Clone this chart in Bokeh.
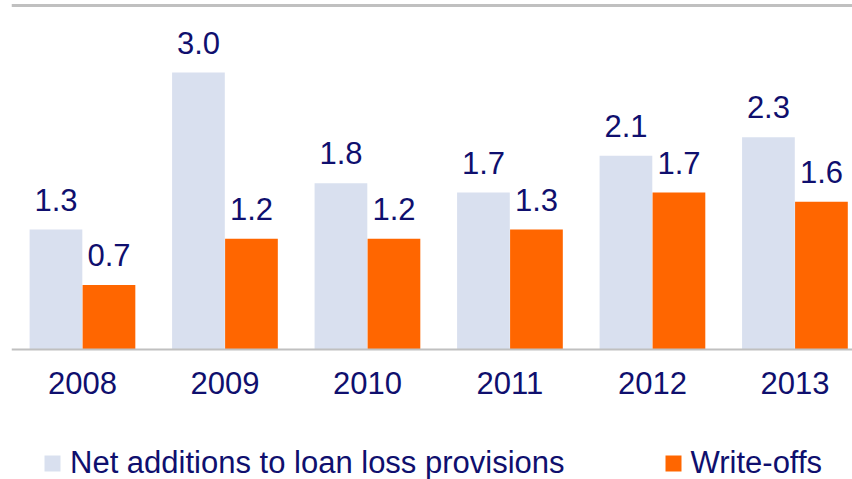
from bokeh.plotting import figure
from bokeh.models import ColumnDataSource, Legend, LegendItem, Span, FixedTicker
from bokeh.core.properties import value
from bokeh.embed import file_html
from bokeh.resources import INLINE

years = ["2008", "2009", "2010", "2011", "2012", "2013"]
net_additions = [1.3, 3.0, 1.8, 1.7, 2.1, 2.3]
write_offs = [0.7, 1.2, 1.2, 1.3, 1.7, 1.6]

LIGHT = "#d9e0ef"
ORANGE = "#ff6600"
NAVY = "#0f0f6e"
GRAY = "#c0c0c0"
FONT = "Liberation Sans"

idx = list(range(len(years)))
bw = 0.37
off = 0.186

src = ColumnDataSource(dict(
    x1=[i - off for i in idx], x2=[i + off for i in idx],
    a=net_additions, b=write_offs,
    la=[f"{v:.1f}" for v in net_additions], lb=[f"{v:.1f}" for v in write_offs],
))

p = figure(width=852, height=479, output_backend="svg", toolbar_location=None,
           x_range=(-0.498, 5.404), y_range=(-1.408, 3.781),
           min_border_left=11, min_border_right=0, min_border_top=0, min_border_bottom=0)
p.outline_line_color = None
p.xgrid.visible = False
p.ygrid.visible = False
p.yaxis.visible = False

r1 = p.vbar(x="x1", top="a", width=bw, bottom=0, source=src, fill_color=LIGHT, line_color=None)
r2 = p.vbar(x="x2", top="b", width=bw, bottom=0, source=src, fill_color=ORANGE, line_color=None)

for xc, yc, col in (("x1", "a", "la"), ("x2", "b", "lb")):
    p.text(x=xc, y=yc, text=col, source=src, y_offset=-30,
           text_align="center", text_baseline="alphabetic", text_color=NAVY,
           text_font=value(FONT), text_font_size="31px")

p.add_layout(Span(location=3.727, dimension="width", line_color=GRAY, line_width=3))

ax = p.xaxis[0]
ax.fixed_location = 0
ax.ticker = FixedTicker(ticks=idx)
ax.major_label_overrides = {i: y for i, y in zip(idx, years)}
ax.major_tick_line_color = None
ax.minor_tick_line_color = None
ax.axis_line_color = GRAY
ax.axis_line_width = 2
ax.major_label_text_font = FONT
ax.major_label_text_font_size = "31px"
ax.major_label_text_color = NAVY
ax.major_label_standoff = 16

legend = Legend(items=[LegendItem(label="Net additions to loan loss provisions", renderers=[r1]),
                       LegendItem(label="Write-offs", renderers=[r2])],
                location=(31, -2), orientation="horizontal", padding=0, margin=0, spacing=98,
                border_line_color=None, background_fill_alpha=0,
                glyph_width=20, glyph_height=20, label_standoff=8,
                label_text_font=FONT, label_text_font_size="31px", label_text_color=NAVY)
p.add_layout(legend, "center")

open("out.html", "w").write(file_html(p, INLINE))
